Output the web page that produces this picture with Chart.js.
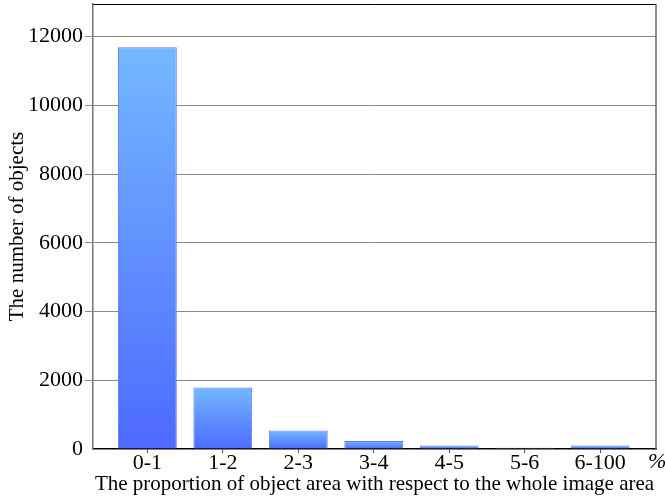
<!DOCTYPE html>
<html>
<head>
<meta charset="utf-8">
<script src="https://cdn.jsdelivr.net/npm/chart.js@4/dist/chart.umd.min.js"></script>
<style>
  html, body { margin: 0; padding: 0; background: #fff; }
  #wrap { width: 665px; height: 497px; }
</style>
</head>
<body>
<div id="wrap"><canvas id="areaChart"></canvas></div>
<script>
// proportion bins (%) and object counts
const bins = ["0-1", "1-2", "2-3", "3-4", "4-5", "5-6", "6-100"];
const counts = [11690, 1790, 540, 235, 100, 40, 105];
const yTicks = [0, 2000, 4000, 6000, 8000, 10000, 12000];

const serif = "'Liberation Serif', 'DejaVu Serif', serif";

// each bar gets its own light-to-dark gradient
function barGradient(context) {
    const chart = context.chart;
    const yScale = chart.scales.y;
    if (!chart.chartArea || !yScale || context.parsed == null) return '#5a8cff';
    const top = yScale.getPixelForValue(context.parsed.y);
    const bottom = yScale.getPixelForValue(0);
    const g = chart.ctx.createLinearGradient(0, top, 0, bottom);
    g.addColorStop(0, '#74b8ff');
    g.addColorStop(1, '#4d6aff');
    return g;
}

// top / right frame lines and the % unit
const framePlugin = {
    id: 'frame',
    afterDraw(chart) {
        const { ctx, chartArea: a } = chart;
        ctx.save();
        ctx.lineWidth = 1;
        ctx.strokeStyle = '#000';
        ctx.beginPath();
        ctx.moveTo(a.left, a.top + 0.5);
        ctx.lineTo(a.right, a.top + 0.5);
        ctx.stroke();
        ctx.strokeStyle = '#666';
        ctx.lineWidth = 1.5;
        ctx.beginPath();
        ctx.moveTo(a.right, a.top);
        ctx.lineTo(a.right, a.bottom);
        ctx.stroke();
        ctx.fillStyle = '#000';
        ctx.font = "italic 22px " + serif;
        ctx.textAlign = 'left';
        ctx.textBaseline = 'middle';
        ctx.fillText('%', a.right - 8, a.bottom + 13);
        ctx.restore();
    }
};

const chart = new Chart(document.getElementById('areaChart'), {
    type: 'bar',
    data: {
        datasets: [{
            data: counts.map((v, i) => ({ x: i, y: v })),
            backgroundColor: barGradient,
            borderColor: '#5878ff',
            borderWidth: 1,
            borderSkipped: 'bottom',
            categoryPercentage: 1.0,
            barPercentage: 0.78
        }]
    },
    options: {
        responsive: true,
        maintainAspectRatio: false,
        animation: false,
        layout: { padding: { left: 0, right: 9, top: 4, bottom: 0 } },
        plugins: {
            legend: { display: false },
            tooltip: { enabled: false }
        },
        scales: {
            x: {
                type: 'linear',
                offset: false,
                min: -0.72,
                max: 6.74,
                afterBuildTicks(scale) {
                    scale.ticks = bins.map((b, i) => ({ value: i }));
                },
                grid: { display: true, offset: false, drawOnChartArea: false, drawTicks: true, tickLength: 4, color: '#555' },
                border: { color: '#000', width: 1.5 },
                ticks: {
                    color: '#000',
                    font: { family: serif, size: 22 },
                    padding: -3,
                    maxRotation: 0,
                    autoSkip: false,
                    callback: v => bins[v]
                },
                title: {
                    display: true,
                    text: 'The proportion of object area with respect to the whole image area',
                    color: '#000',
                    font: { family: serif, size: 21 },
                    padding: { top: -1, bottom: 0 }
                },
                afterFit(scale) {
                    scale.height = 48;
                    scale.paddingLeft = 0;
                    scale.paddingRight = 0;
                }
            },
            y: {
                min: 0,
                max: 12950,
                afterBuildTicks(scale) {
                    scale.ticks = yTicks.map(v => ({ value: v }));
                },
                grid: {
                    color: c => (c.tick && c.tick.value === 0) ? 'rgba(0,0,0,0)' : '#8a8a8a',
                    lineWidth: 1,
                    tickLength: 8
                },
                border: { color: '#777', width: 1.5 },
                ticks: {
                    color: '#000',
                    font: { family: serif, size: 22 },
                    padding: 2,
                    callback: v => String(v)
                },
                title: {
                    display: true,
                    text: 'The number of objects',
                    color: '#000',
                    font: { family: serif, size: 21 },
                    padding: { top: 5, bottom: 0 }
                },
                afterFit(scale) {
                    scale.width = 93;
                    scale.paddingTop = 0;
                    scale.paddingBottom = 0;
                }
            }
        }
    },
    plugins: [framePlugin]
});
</script>
</body>
</html>
